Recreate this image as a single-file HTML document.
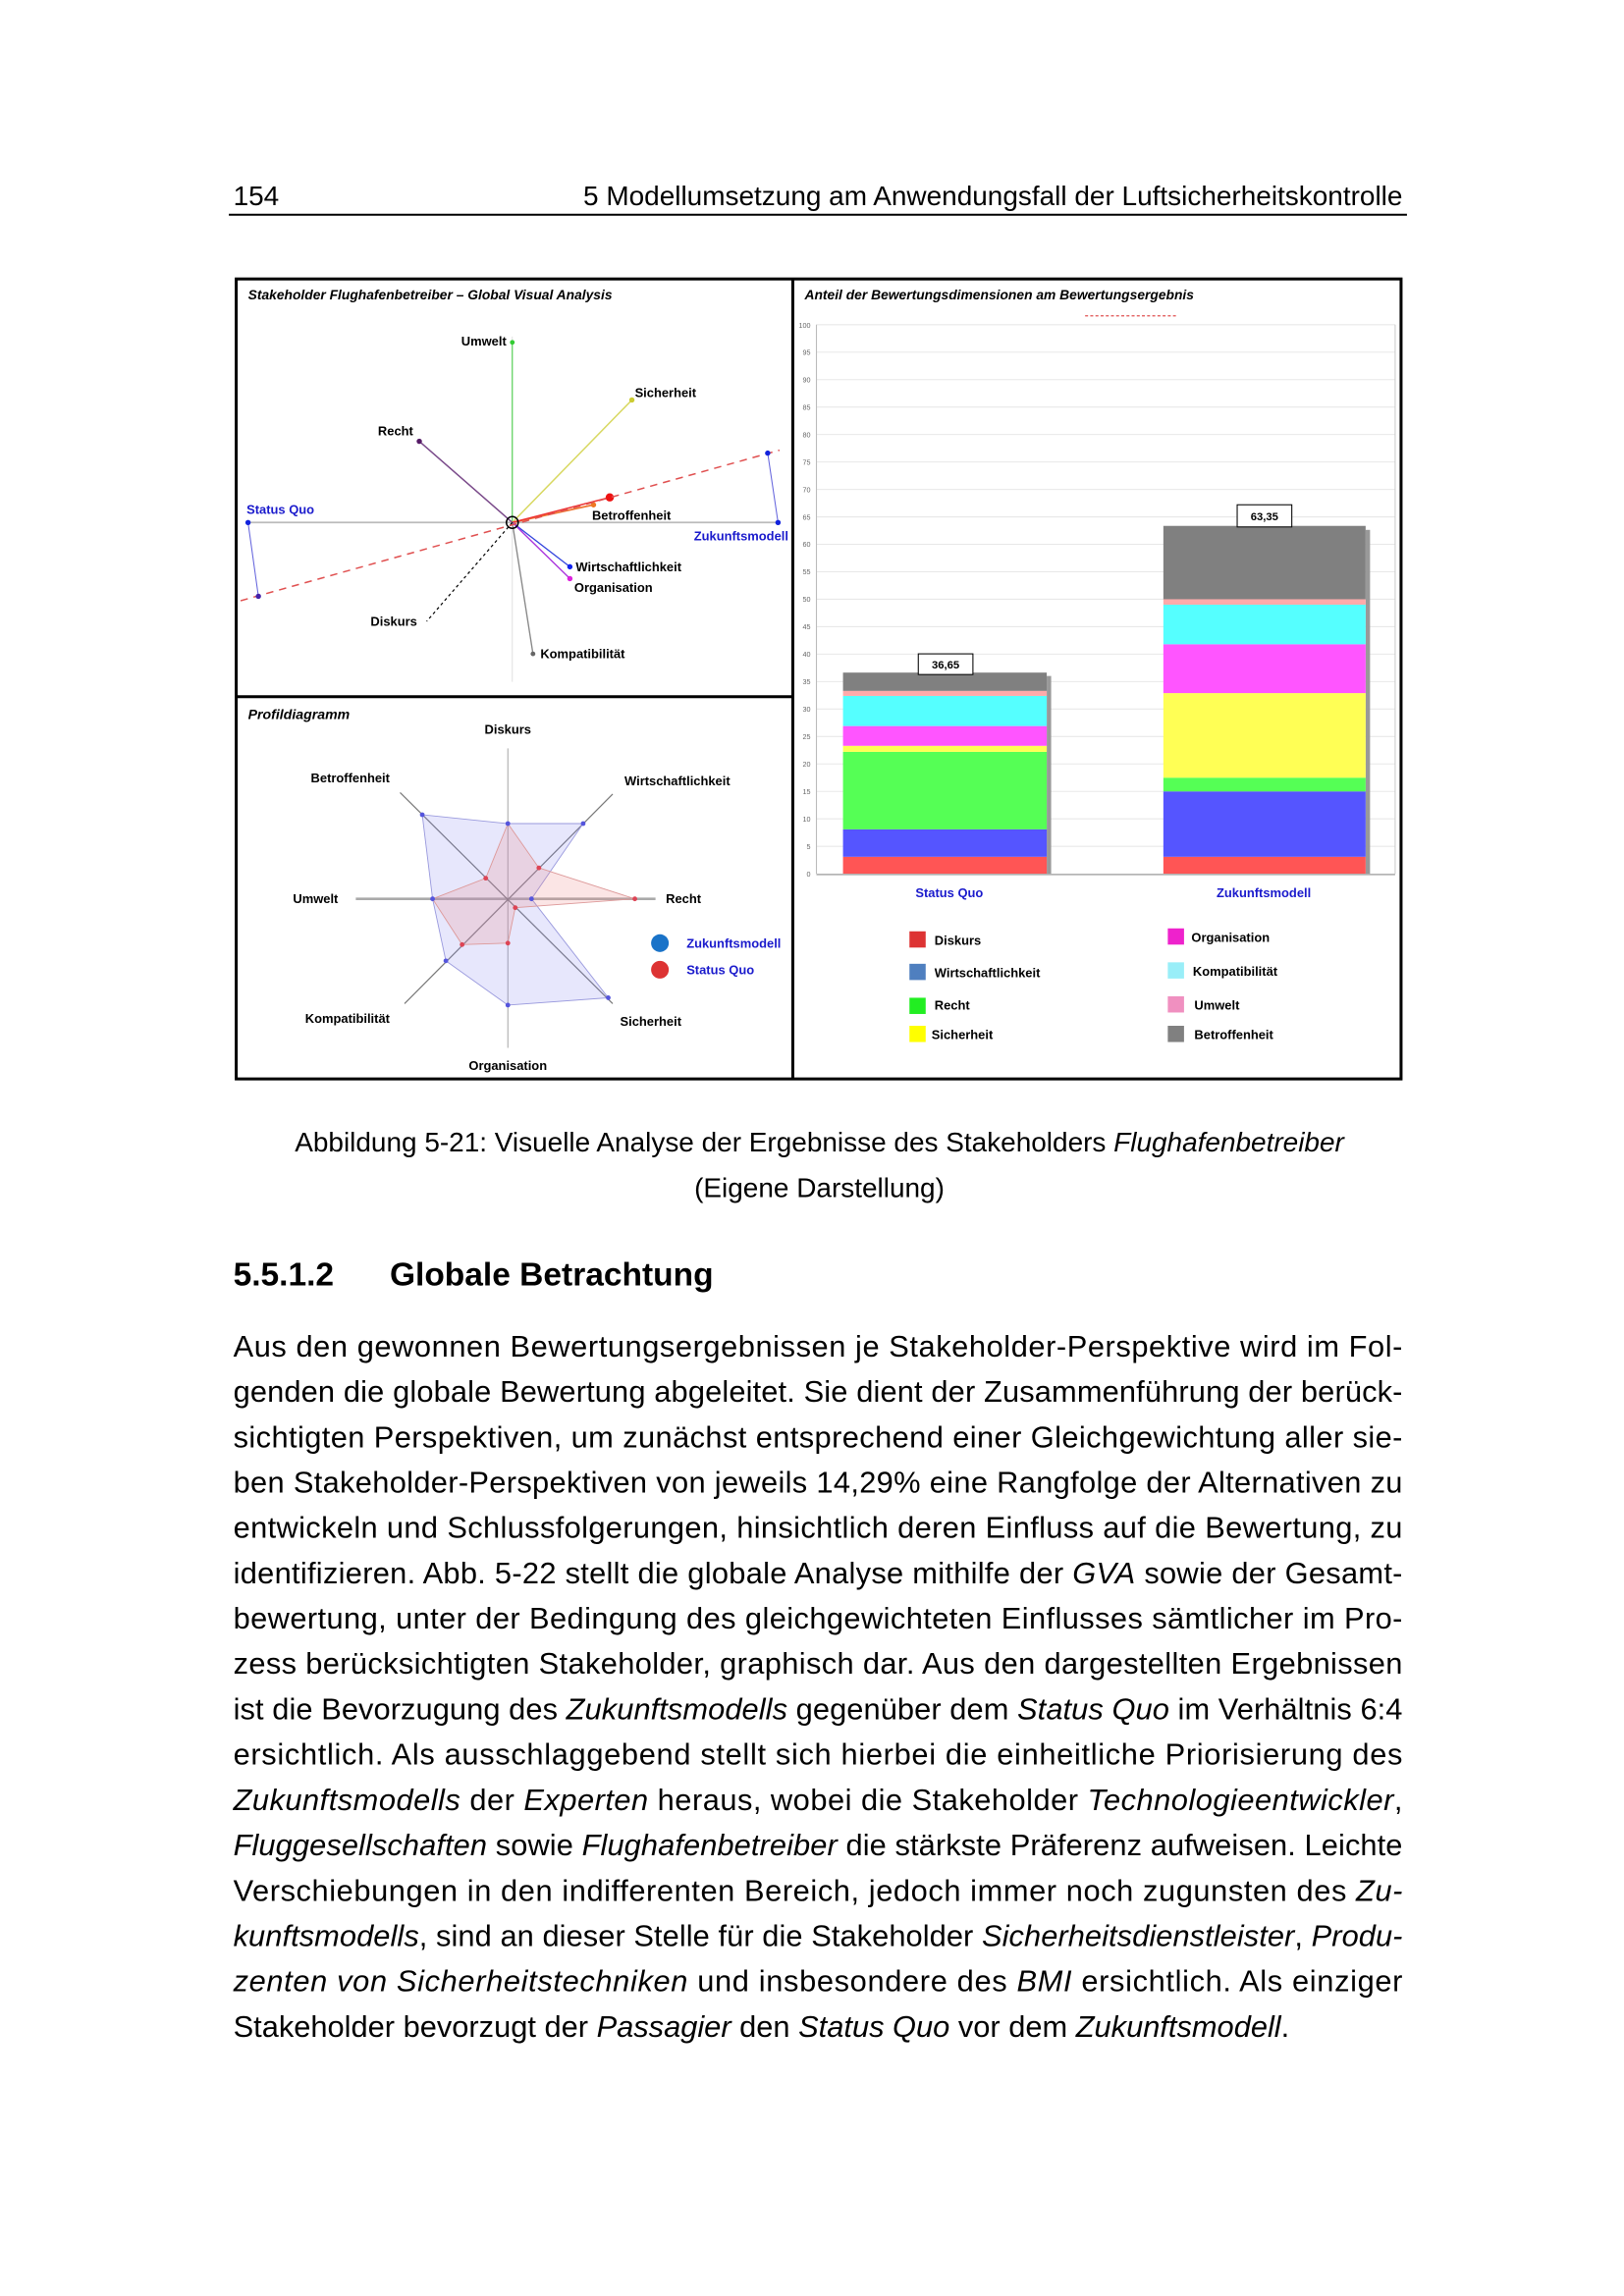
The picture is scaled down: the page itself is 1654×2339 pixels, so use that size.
<!DOCTYPE html>
<html><head><meta charset="utf-8"><style>html,body{margin:0;padding:0;background:#fff}svg{display:block}</style></head>
<body>
<svg xmlns="http://www.w3.org/2000/svg" width="1654" height="2339" viewBox="0 0 1100 1555.6" font-family="Liberation Sans, sans-serif">
<rect width="1100" height="1556" fill="#fff"/>
<!-- header -->
<text x="158" y="139" font-size="18.6">154</text>
<text x="950" y="139" font-size="18.6" text-anchor="end">5 Modellumsetzung am Anwendungsfall der Luftsicherheitskontrolle</text>
<line x1="155" y1="145.5" x2="953" y2="145.5" stroke="#000" stroke-width="1.3"/>

<!-- figure frame -->
<rect x="160" y="189" width="789" height="542" fill="#fff" stroke="#000" stroke-width="2"/>
<line x1="537" y1="189" x2="537" y2="731" stroke="#000" stroke-width="2"/>
<line x1="160" y1="472" x2="537" y2="472" stroke="#000" stroke-width="2"/>

<!-- GVA -->
<g font-weight="bold" font-size="8.6">
<text x="168" y="203" font-style="italic" font-size="9.2">Stakeholder Flughafenbetreiber – Global Visual Analysis</text>
<line x1="168" y1="354" x2="528" y2="354" stroke="#bbb" stroke-width="1.2"/>
<line x1="347" y1="228" x2="347" y2="462" stroke="#ddd" stroke-width="0.6"/>
<line x1="347" y1="354" x2="347" y2="232" stroke="#44cc44" stroke-width="0.7"/>
<circle cx="347" cy="232" r="1.6" fill="#33cc33"/>
<line x1="347" y1="354" x2="428" y2="271" stroke="#d8d860" stroke-width="1"/>
<circle cx="428" cy="271" r="1.8" fill="#cccc33"/>
<line x1="347" y1="354" x2="284" y2="299" stroke="#7a4a8a" stroke-width="1"/>
<circle cx="284" cy="299" r="1.8" fill="#551a66"/>
<line x1="347" y1="354" x2="402" y2="342" stroke="#ee7733" stroke-width="1.2"/>
<line x1="347" y1="354" x2="413" y2="337" stroke="#ee3333" stroke-width="1"/>
<circle cx="402" cy="342" r="1.8" fill="#ee7722"/>
<circle cx="413" cy="337" r="2.8" fill="#ee1111"/>
<line x1="347" y1="354" x2="386" y2="384" stroke="#3344dd" stroke-width="0.9"/>
<line x1="347" y1="354" x2="386" y2="392" stroke="#aa33dd" stroke-width="0.9"/>
<circle cx="386" cy="384" r="1.8" fill="#1122ee"/>
<circle cx="386" cy="392" r="1.8" fill="#dd22dd"/>
<line x1="347" y1="354" x2="361" y2="443" stroke="#888" stroke-width="0.9"/>
<circle cx="361" cy="443" r="1.6" fill="#666"/>
<line x1="347" y1="354" x2="289" y2="421" stroke="#000" stroke-width="0.8" stroke-dasharray="2,2"/>
<line x1="163" y1="407" x2="528" y2="305" stroke="#e05050" stroke-width="1" stroke-dasharray="5,4"/>
<line x1="168" y1="354" x2="175" y2="404" stroke="#6666dd" stroke-width="0.7"/>
<circle cx="168" cy="354" r="1.8" fill="#1122dd"/>
<circle cx="175" cy="404" r="1.8" fill="#4422aa"/>
<line x1="520" y1="307" x2="527" y2="354" stroke="#6666dd" stroke-width="0.7"/>
<circle cx="520" cy="307" r="1.8" fill="#1122dd"/>
<circle cx="527" cy="354" r="1.8" fill="#1122dd"/>
<circle cx="347" cy="354" r="4" fill="none" stroke="#000" stroke-width="1"/>
<text x="343" y="234" text-anchor="end">Umwelt</text>
<text x="430" y="269">Sicherheit</text>
<text x="256" y="295">Recht</text>
<text x="401" y="352">Betroffenheit</text>
<text x="390" y="387">Wirtschaftlichkeit</text>
<text x="389" y="401">Organisation</text>
<text x="366" y="446">Kompatibilität</text>
<text x="251" y="424">Diskurs</text>
<text x="167" y="348" fill="#1a1acc">Status Quo</text>
<text x="534" y="366" fill="#1a1acc" text-anchor="end">Zukunftsmodell</text>
</g>

<!-- Profildiagramm -->
<g font-weight="bold" font-size="8.6">
<text x="168" y="487" font-style="italic" font-size="9.4">Profildiagramm</text>
<g transform="translate(344,609)">
<line x1="-103" y1="0" x2="100" y2="0" stroke="#aaa" stroke-width="1.8"/>
<line x1="0" y1="-102" x2="0" y2="101" stroke="#aaa" stroke-width="0.7"/>
<line x1="-73" y1="-72" x2="71" y2="71" stroke="#777" stroke-width="0.8"/>
<line x1="71" y1="-71" x2="-70" y2="71" stroke="#777" stroke-width="0.8"/>
<polygon points="0,-51 51,-51 16,0 68,67 0,72 -42,42 -51,0 -58,-57" fill="#8888ee" fill-opacity="0.2" stroke="#9999dd" stroke-width="0.6"/>
<polygon points="0,-51 21,-21 86,0 5,6 0,30 -31,31 -51,0 -15,-14" fill="#ee8888" fill-opacity="0.22" stroke="#dd9999" stroke-width="0.6"/>
<g fill="#5555dd"><circle cx="0" cy="-51" r="1.6"/><circle cx="51" cy="-51" r="1.6"/><circle cx="16" cy="0" r="1.6"/><circle cx="68" cy="67" r="1.6"/><circle cx="0" cy="72" r="1.6"/><circle cx="-42" cy="42" r="1.6"/><circle cx="-51" cy="0" r="1.6"/><circle cx="-58" cy="-57" r="1.6"/></g>
<g fill="#dd4455"><circle cx="21" cy="-21" r="1.6"/><circle cx="86" cy="0" r="1.6"/><circle cx="5" cy="6" r="1.6"/><circle cx="0" cy="30" r="1.6"/><circle cx="-31" cy="31" r="1.6"/><circle cx="-15" cy="-14" r="1.6"/></g>
</g>
<text x="344" y="497" text-anchor="middle">Diskurs</text>
<text x="423" y="532">Wirtschaftlichkeit</text>
<text x="451" y="612">Recht</text>
<text x="420" y="695">Sicherheit</text>
<text x="344" y="725" text-anchor="middle">Organisation</text>
<text x="264" y="693" text-anchor="end">Kompatibilität</text>
<text x="229" y="612" text-anchor="end">Umwelt</text>
<text x="264" y="530" text-anchor="end">Betroffenheit</text>
<circle cx="447" cy="639" r="6" fill="#1a73c8"/>
<circle cx="447" cy="657" r="6" fill="#dd3333"/>
<text x="465" y="642" fill="#1a1acc">Zukunftsmodell</text>
<text x="465" y="660" fill="#1a1acc">Status Quo</text>
</g>

<!-- Bar chart -->
<g font-size="8.6" font-weight="bold">
<text x="545" y="203" font-style="italic" font-size="9.2">Anteil der Bewertungsdimensionen am  Bewertungsergebnis</text>
<line x1="735" y1="214" x2="798" y2="214" stroke="#e05050" stroke-width="0.8" stroke-dasharray="2,1.5"/>
<g stroke="#e8e8e8" stroke-width="0.7">
<line x1="553" y1="220" x2="945" y2="220"/><line x1="553" y1="238.6" x2="945" y2="238.6"/><line x1="553" y1="257.2" x2="945" y2="257.2"/><line x1="553" y1="275.8" x2="945" y2="275.8"/><line x1="553" y1="294.4" x2="945" y2="294.4"/><line x1="553" y1="313" x2="945" y2="313"/><line x1="553" y1="331.6" x2="945" y2="331.6"/><line x1="553" y1="350.2" x2="945" y2="350.2"/><line x1="553" y1="368.8" x2="945" y2="368.8"/><line x1="553" y1="387.4" x2="945" y2="387.4"/><line x1="553" y1="406" x2="945" y2="406"/><line x1="553" y1="424.6" x2="945" y2="424.6"/><line x1="553" y1="443.2" x2="945" y2="443.2"/><line x1="553" y1="461.8" x2="945" y2="461.8"/><line x1="553" y1="480.4" x2="945" y2="480.4"/><line x1="553" y1="499" x2="945" y2="499"/><line x1="553" y1="517.6" x2="945" y2="517.6"/><line x1="553" y1="536.2" x2="945" y2="536.2"/><line x1="553" y1="554.8" x2="945" y2="554.8"/><line x1="553" y1="573.4" x2="945" y2="573.4"/>
</g>
<line x1="553" y1="220" x2="553" y2="592" stroke="#bbb" stroke-width="0.7"/>
<line x1="945" y1="220" x2="945" y2="592" stroke="#ccc" stroke-width="0.7"/>
<g font-size="4.8" font-weight="normal" fill="#666" text-anchor="end">
<text x="549" y="222">100</text><text x="549" y="240.5">95</text><text x="549" y="259">90</text><text x="549" y="277.6">85</text><text x="549" y="296.2">80</text><text x="549" y="314.8">75</text><text x="549" y="333.4">70</text><text x="549" y="352">65</text><text x="549" y="370.6">60</text><text x="549" y="389.2">55</text><text x="549" y="407.8">50</text><text x="549" y="426.4">45</text><text x="549" y="445">40</text><text x="549" y="463.6">35</text><text x="549" y="482.2">30</text><text x="549" y="500.8">25</text><text x="549" y="519.4">20</text><text x="549" y="538">15</text><text x="549" y="556.6">10</text><text x="549" y="575.2">5</text><text x="549" y="593.8">0</text>
</g>
<rect x="709" y="458" width="3" height="134" fill="#999"/>
<rect x="925" y="359" width="3" height="233" fill="#999"/>
<rect x="571" y="580.5" width="138" height="11.5" fill="#ff5555"/>
<rect x="571" y="561.9" width="138" height="18.6" fill="#5555ff"/>
<rect x="571" y="509.4" width="138" height="52.5" fill="#55ff55"/>
<rect x="571" y="505.3" width="138" height="4.1" fill="#ffff55"/>
<rect x="571" y="491.9" width="138" height="13.4" fill="#ff55ff"/>
<rect x="571" y="471.5" width="138" height="20.4" fill="#55ffff"/>
<rect x="571" y="468.1" width="138" height="3.4" fill="#ffaaaa"/>
<rect x="571" y="455.7" width="138" height="12.4" fill="#808080"/>
<rect x="788" y="580.5" width="137" height="11.5" fill="#ff5555"/>
<rect x="788" y="536.2" width="137" height="44.3" fill="#5555ff"/>
<rect x="788" y="526.9" width="137" height="9.3" fill="#55ff55"/>
<rect x="788" y="469.6" width="137" height="57.3" fill="#ffff55"/>
<rect x="788" y="436.5" width="137" height="33.1" fill="#ff55ff"/>
<rect x="788" y="409.7" width="137" height="26.8" fill="#55ffff"/>
<rect x="788" y="406" width="137" height="3.7" fill="#ffaaaa"/>
<rect x="788" y="356.3" width="137" height="49.7" fill="#808080"/>
<line x1="553" y1="592.5" x2="945" y2="592.5" stroke="#aaa" stroke-width="1"/>
<rect x="622" y="443" width="37" height="14" fill="#fff" stroke="#000" stroke-width="0.7"/>
<text x="640.5" y="453" text-anchor="middle" font-size="7.5">36,65</text>
<rect x="838" y="342" width="37" height="15" fill="#fff" stroke="#000" stroke-width="0.7"/>
<text x="856.5" y="352.5" text-anchor="middle" font-size="7.5">63,35</text>
<text x="643" y="608" text-anchor="middle" fill="#1a1acc">Status Quo</text>
<text x="856" y="608" text-anchor="middle" fill="#1a1acc">Zukunftsmodell</text>
<rect x="616" y="631" width="11" height="11" fill="#dd3333"/><text x="633" y="640">Diskurs</text>
<rect x="616" y="653" width="11" height="11" fill="#4f7fbf"/><text x="633" y="662">Wirtschaftlichkeit</text>
<rect x="616" y="676" width="11" height="11" fill="#22ee22"/><text x="633" y="684">Recht</text>
<rect x="616" y="695" width="11" height="11" fill="#ffff00"/><text x="631" y="704">Sicherheit</text>
<rect x="791" y="629" width="11" height="11" fill="#ee22cc"/><text x="807" y="638">Organisation</text>
<rect x="791" y="652" width="11" height="11" fill="#99eef8"/><text x="808" y="661">Kompatibilität</text>
<rect x="791" y="675" width="11" height="11" fill="#f090c0"/><text x="809" y="684">Umwelt</text>
<rect x="791" y="695" width="11" height="11" fill="#808080"/><text x="809" y="704">Betroffenheit</text>
</g>

<!-- caption -->
<text x="555" y="780" font-size="18.6" text-anchor="middle">Abbildung 5-21: Visuelle Analyse der Ergebnisse des Stakeholders <tspan font-style="italic">Flughafenbetreiber</tspan></text>
<text x="555" y="811" font-size="18.6" text-anchor="middle">(Eigene Darstellung)</text>

<!-- heading -->
<text x="158" y="871" font-size="22.3" font-weight="bold">5.5.1.2</text>
<text x="264" y="871" font-size="22.3" font-weight="bold">Globale Betrachtung</text>

<!-- paragraph -->
<g font-size="20.5">
<text x="158" y="919" textLength="792" lengthAdjust="spacing">Aus den gewonnen Bewertungsergebnissen je Stakeholder-Perspektive wird im Fol-</text>
<text x="158" y="949.7" textLength="792" lengthAdjust="spacing">genden die globale Bewertung abgeleitet. Sie dient der Zusammenführung der berück-</text>
<text x="158" y="980.5" textLength="792" lengthAdjust="spacing">sichtigten Perspektiven, um zunächst entsprechend einer Gleichgewichtung aller sie-</text>
<text x="158" y="1011.2" textLength="792" lengthAdjust="spacing">ben Stakeholder-Perspektiven von jeweils 14,29% eine Rangfolge der Alternativen zu</text>
<text x="158" y="1041.9" textLength="792" lengthAdjust="spacing">entwickeln und Schlussfolgerungen, hinsichtlich deren Einfluss auf die Bewertung, zu</text>
<text x="158" y="1072.7" textLength="792" lengthAdjust="spacing">identifizieren. Abb. 5-22 stellt die globale Analyse mithilfe der <tspan font-style="italic">GVA</tspan> sowie der Gesamt-</text>
<text x="158" y="1103.4" textLength="792" lengthAdjust="spacing">bewertung, unter der Bedingung des gleichgewichteten Einflusses sämtlicher im Pro-</text>
<text x="158" y="1134.1" textLength="792" lengthAdjust="spacing">zess berücksichtigten Stakeholder, graphisch dar. Aus den dargestellten Ergebnissen</text>
<text x="158" y="1164.8" textLength="792" lengthAdjust="spacing">ist die Bevorzugung des <tspan font-style="italic">Zukunftsmodells</tspan> gegenüber dem <tspan font-style="italic">Status Quo</tspan> im Verhältnis 6:4</text>
<text x="158" y="1195.6" textLength="792" lengthAdjust="spacing">ersichtlich. Als ausschlaggebend stellt sich hierbei die einheitliche Priorisierung des</text>
<text x="158" y="1226.3" textLength="792" lengthAdjust="spacing"><tspan font-style="italic">Zukunftsmodells</tspan> der <tspan font-style="italic">Experten</tspan> heraus, wobei die Stakeholder <tspan font-style="italic">Technologieentwickler</tspan>,</text>
<text x="158" y="1257" textLength="792" lengthAdjust="spacing"><tspan font-style="italic">Fluggesellschaften</tspan> sowie <tspan font-style="italic">Flughafenbetreiber</tspan> die stärkste Präferenz aufweisen. Leichte</text>
<text x="158" y="1287.8" textLength="792" lengthAdjust="spacing">Verschiebungen in den indifferenten Bereich, jedoch immer noch zugunsten des <tspan font-style="italic">Zu-</tspan></text>
<text x="158" y="1318.5" textLength="792" lengthAdjust="spacing"><tspan font-style="italic">kunftsmodells</tspan>, sind an dieser Stelle für die Stakeholder <tspan font-style="italic">Sicherheitsdienstleister</tspan>, <tspan font-style="italic">Produ-</tspan></text>
<text x="158" y="1349.2" textLength="792" lengthAdjust="spacing"><tspan font-style="italic">zenten von Sicherheitstechniken</tspan> und insbesondere des <tspan font-style="italic">BMI</tspan> ersichtlich. Als einziger</text>
<text x="158" y="1380">Stakeholder bevorzugt der <tspan font-style="italic">Passagier</tspan> den <tspan font-style="italic">Status Quo</tspan> vor dem <tspan font-style="italic">Zukunftsmodell</tspan>.</text>
</g>
</svg>
</body></html>
